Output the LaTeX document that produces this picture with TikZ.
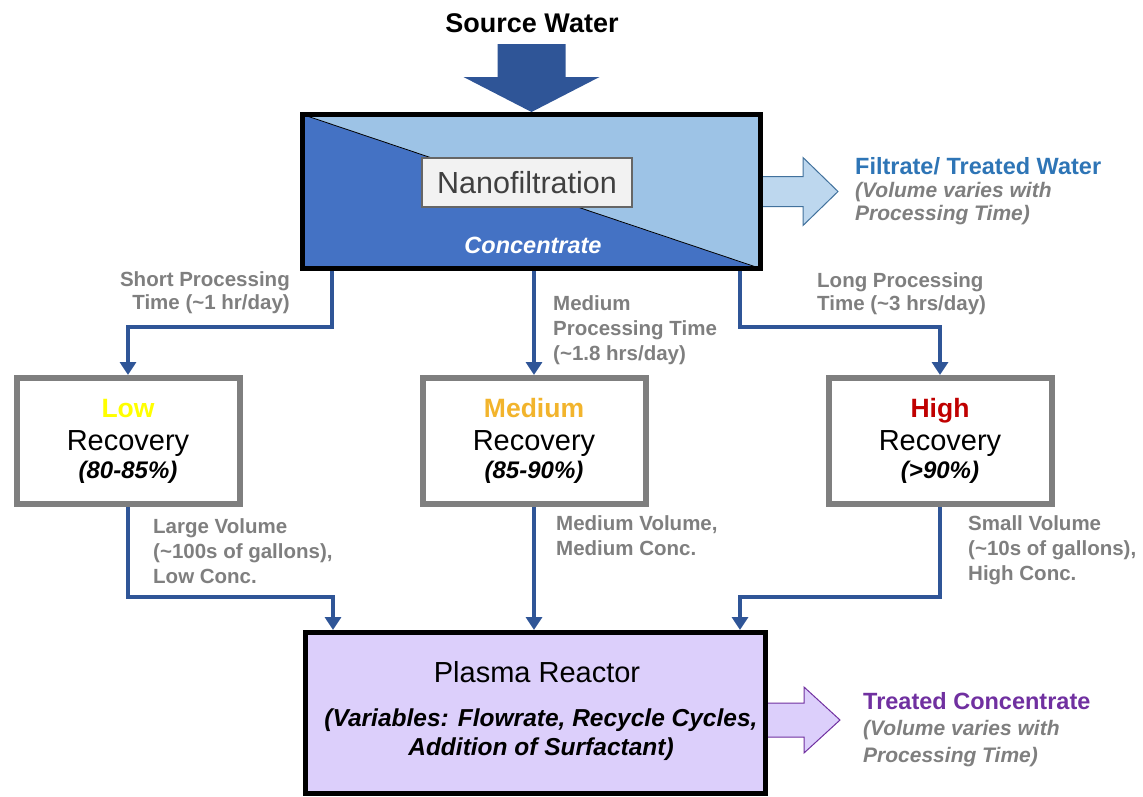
\documentclass[tikz,border=0pt]{standalone}
\usepackage{fontspec}
\setmainfont{Liberation Sans}
\usetikzlibrary{arrows.meta,positioning}
\definecolor{flowblue}{HTML}{2F5597}
\definecolor{nfdark}{HTML}{4472C4}
\definecolor{nflight}{HTML}{9DC3E6}
\definecolor{filtfill}{HTML}{BDD7EE}
\definecolor{filtline}{HTML}{41719C}
\definecolor{filtblue}{HTML}{2E75B6}
\definecolor{notegray}{HTML}{7F7F7F}
\definecolor{labelgray}{HTML}{F2F2F2}
\definecolor{labeltext}{HTML}{404040}
\definecolor{lowyellow}{HTML}{FFFF00}
\definecolor{medgold}{HTML}{F2B42C}
\definecolor{highred}{HTML}{C00000}
\definecolor{plasmafill}{HTML}{DCCFFB}
\definecolor{plasmapurple}{HTML}{7030A0}
\newcommand{\fs}[2]{\fontsize{#1}{#2}\selectfont}

\begin{document}
\begin{tikzpicture}[x=1pt,y=-1pt,
  flow/.style={draw=flowblue,line width=4pt,-{Triangle[width=16pt,length=13pt]}},
  recbox/.style={draw=notegray,line width=6pt,fill=white,minimum width=223pt,minimum height=126pt,inner sep=0pt,align=center,font=\fs{29}{30}},
  note/.style={text=notegray,font=\bfseries\fs{20.5}{25},inner sep=0pt},
  ]
\useasboundingbox (0,0) rectangle (1143,796);

% source and nanofiltration
\node[font=\bfseries\fs{27}{30}] (src) at (532,23) {Source Water};
\node[draw=black,line width=5pt,fill=nfdark,minimum width=458pt,minimum height=154pt,inner sep=0pt,
  path picture={\fill[nflight] (path picture bounding box.north west) -- (path picture bounding box.north east) -- (path picture bounding box.south east) -- cycle;
    \draw[line width=0.8pt] (path picture bounding box.north west) -- (path picture bounding box.south east);}] (nf) at (531.5,191.5) {};
\fill[flowblue] (nf.north) -- ++(-68,-35) -- ++(34,0) -- ++(0,-33) -- ++(68,0) -- ++(0,33) -- ++(34,0) -- cycle;
\node[draw=labeltext!80,line width=1.2pt,fill=labelgray,minimum width=210pt,minimum height=49pt,text=labeltext,font=\fs{30.5}{32}] (nflbl) at (527,182.5) {Nanofiltration};
\node[text=white,font=\bfseries\itshape\fs{23.5}{26}] (conc) at (533,245) {Concentrate};

% filtrate out
\filldraw[fill=filtfill,draw=filtline,line width=1pt] (nf.east) ++(0,-15) -- ++(40,0) -- ++(0,-19) -- ++(35,34) -- ++(-35,34) -- ++(0,-19) -- ++(-40,0);
\node[anchor=north west,inner sep=0pt,align=left,font=\bfseries\fs{21}{23}] (filt) at (855,157)
  {\textcolor{filtblue}{\fs{23.5}{23}Filtrate/ Treated Water}\\ \textcolor{notegray}{\itshape (Volume varies with}\\ \textcolor{notegray}{\itshape Processing Time)}};

% recovery
\node[recbox] (low) at (128,441) {\textcolor{lowyellow}{\bfseries\fs{26.5}{30}Low}\\[3pt] Recovery\\[-2pt] {\bfseries\itshape\fs{24}{30}(80-85\%)}};
\node[recbox] (mid) at (534,441) {\textcolor{medgold}{\bfseries\fs{26.5}{30}Medium}\\[3pt] Recovery\\[-2pt] {\bfseries\itshape\fs{24}{30}(85-90\%)}};
\node[recbox] (high) at (940,441) {\textcolor{highred}{\bfseries\fs{26.5}{30}High}\\[3pt] Recovery\\[-2pt] {\bfseries\itshape\fs{24}{30}(>90\%)}};

% plasma reactor
\node[draw=black,line width=5pt,fill=plasmafill,minimum width=460pt,minimum height=161pt,inner sep=0pt] (plasma) at (535.5,713) {};
\node[font=\fs{29}{32}] (plasmatitle) at (537,672) {Plasma Reactor};
\node[font=\bfseries\itshape\fs{24.5}{29},align=center] (plasmavars) at (541,735) {(Variables: Flowrate, Recycle Cycles,\\ Addition of Surfactant)};
\filldraw[fill=plasmafill,draw=plasmapurple,line width=1pt] (plasma.east) ++(0,-10) -- ++(36,0) -- ++(0,-16) -- ++(36,33) -- ++(-36,33) -- ++(0,-16) -- ++(-36,0);
\node[anchor=north west,inner sep=0pt,align=left,font=\bfseries\fs{21}{26.5}] (treated) at (863,692)
  {\textcolor{plasmapurple}{\fs{23.5}{26}Treated Concentrate}\\ \textcolor{notegray}{\itshape (Volume varies with}\\ \textcolor{notegray}{\itshape Processing Time)}};

% flows
\coordinate (nfL) at (332,0);
\coordinate (nfR) at (740,0);
\coordinate (splitY) at (0,327);
\coordinate (plL) at (333,0);
\coordinate (plR) at (740,0);
\coordinate (joinY) at (0,597);
\draw[flow] (nf.south -| nfL) -- (splitY -| nfL) -| (low.north);
\draw[flow] (nf.south -| mid.north) -- (mid.north);
\draw[flow] (nf.south -| nfR) -- (splitY -| nfR) -| (high.north);
\draw[flow] (low.south) -- (joinY -| low.south) -| (plasma.north -| plL);
\draw[flow] (mid.south) -- (plasma.north -| mid.south);
\draw[flow] (high.south) -- (joinY -| high.south) -| (plasma.north -| plR);

% flow notes
\node[note,anchor=north east,align=right] (shortlbl) at (290,271) {Short Processing\\[-2pt] Time (\textasciitilde1 hr/day)};
\node[note,anchor=north west,align=left] (medlbl) at (553,295) {Medium\\ Processing Time\\ (\textasciitilde1.8 hrs/day)};
\node[note,anchor=north west,align=left] (longlbl) at (817,272) {Long Processing\\[-2pt] Time (\textasciitilde3 hrs/day)};
\node[note,anchor=north west,align=left] (largelbl) at (153,518) {Large Volume\\ (\textasciitilde100s of gallons),\\ Low Conc.};
\node[note,anchor=north west,align=left] (medvol) at (556,515) {Medium Volume,\\ Medium Conc.};
\node[note,anchor=north west,align=left] (smalllbl) at (968,515) {Small Volume\\ (\textasciitilde10s of gallons),\\ High Conc.};
\end{tikzpicture}
\end{document}
